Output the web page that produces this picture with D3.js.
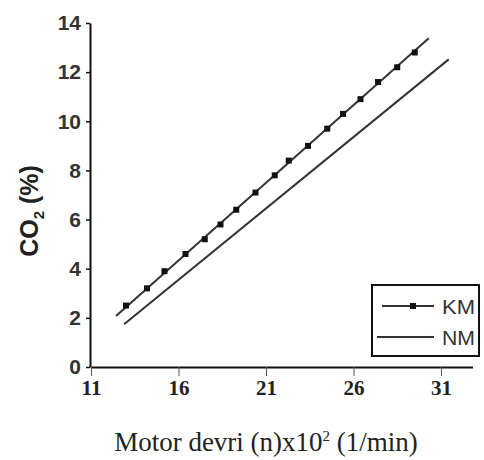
<!DOCTYPE html>
<html>
<head>
<meta charset="utf-8">
<script src="https://cdn.jsdelivr.net/npm/d3@7"></script>
<style>
  html, body { margin: 0; padding: 0; background: #fff; }
  svg { display: block; }
</style>
</head>
<body>
<svg id="chart" width="484" height="460"></svg>
<script>
// x ticks and y ticks
const xTicks = [11, 16, 21, 26, 31];
const yTicks = [0, 2, 4, 6, 8, 10, 12, 14];

// KM: marker points
const kmX = [13.0, 14.2, 15.2, 16.4, 17.5, 18.4, 19.3, 20.4, 21.5, 22.3, 23.4, 24.5, 25.4, 26.4, 27.4, 28.5, 29.5];
const kmY = [2.5, 3.2, 3.9, 4.6, 5.2, 5.8, 6.4, 7.1, 7.8, 8.4, 9.0, 9.7, 10.3, 10.9, 11.6, 12.2, 12.8];
// KM fitted line ends
const kmLineX = [12.43, 30.3];
const kmLineY = [2.08, 13.38];
// NM line ends
const nmLineX = [12.89, 31.44];
const nmLineY = [1.74, 12.52];

const svg = d3.select("#chart");

const x = d3.scaleLinear().domain([11, 32.8]).range([91, 472.5]);
const y = d3.scaleLinear().domain([0, 14]).range([367, 23]);

const ink = "#333";

// axes
const xAxis = svg.append("g")
  .attr("transform", `translate(0,${y(0)})`)
  .call(d3.axisBottom(x).tickValues(xTicks).tickSize(9).tickSizeOuter(0).tickPadding(4));
xAxis.select(".domain").attr("stroke", "#111").attr("stroke-width", 2);
xAxis.selectAll(".tick line").attr("stroke", "#555").attr("stroke-width", 1);
xAxis.selectAll(".tick text")
  .attr("font-family", "Liberation Serif, serif")
  .attr("font-weight", "bold")
  .attr("font-size", 21)
  .attr("fill", "#222");

const yAxis = svg.append("g")
  .attr("transform", `translate(${x(11) - 1},0)`)
  .call(d3.axisLeft(y).tickValues(yTicks).tickSize(4).tickSizeOuter(0).tickPadding(5));
yAxis.select(".domain").attr("stroke", "#111").attr("stroke-width", 2);
yAxis.selectAll(".tick line").attr("stroke", "#111").attr("stroke-width", 1.5);
yAxis.selectAll(".tick text")
  .attr("font-family", "Liberation Sans, Arial, sans-serif")
  .attr("font-weight", "bold")
  .attr("font-size", 21)
  .attr("fill", "#333");

// axis titles
const yt = svg.append("text")
  .attr("transform", `translate(38,211) rotate(-90)`)
  .attr("text-anchor", "middle")
  .attr("font-family", "Liberation Sans, Arial, sans-serif")
  .attr("font-weight", "bold")
  .attr("font-size", 25)
  .attr("fill", "#222");
yt.append("tspan").text("CO");
yt.append("tspan").attr("font-size", 15).attr("dy", 6).text("2");
yt.append("tspan").attr("dy", -6).text(" (%)");

const xt = svg.append("text")
  .attr("x", 266)
  .attr("y", 451)
  .attr("text-anchor", "middle")
  .attr("font-family", "Liberation Serif, serif")
  .attr("font-size", 27)
  .attr("fill", "#222");
xt.append("tspan").text("Motor devri (n)x10");
xt.append("tspan").attr("font-size", 15).attr("dy", -10).text("2");
xt.append("tspan").attr("dy", 10).text(" (1/min)");

// series
const line = d3.line().x((d) => x(d[0])).y((d) => y(d[1]));

svg.append("path")
  .datum(d3.zip(kmLineX, kmLineY))
  .attr("d", line)
  .attr("fill", "none")
  .attr("stroke", ink)
  .attr("stroke-width", 2);

svg.append("path")
  .datum(d3.zip(nmLineX, nmLineY))
  .attr("d", line)
  .attr("fill", "none")
  .attr("stroke", ink)
  .attr("stroke-width", 2);

const sq = d3.symbol().type(d3.symbolSquare).size(36);
svg.append("g").selectAll("path")
  .data(d3.zip(kmX, kmY))
  .join("path")
  .attr("d", sq)
  .attr("transform", (d) => `translate(${x(d[0])},${y(d[1])})`)
  .attr("fill", "#111");

// legend
const lg = svg.append("g");
lg.append("rect")
  .attr("x", 372).attr("y", 285).attr("width", 107).attr("height", 71)
  .attr("fill", "#fff").attr("stroke", "#111").attr("stroke-width", 2);
lg.append("line").attr("x1", 382).attr("x2", 434).attr("y1", 306).attr("y2", 306)
  .attr("stroke", ink).attr("stroke-width", 2);
lg.append("path").attr("d", sq).attr("transform", "translate(413,306)").attr("fill", "#111");
lg.append("line").attr("x1", 377).attr("x2", 434).attr("y1", 337).attr("y2", 337)
  .attr("stroke", ink).attr("stroke-width", 2);
const names = ["KM", "NM"];
lg.selectAll("text.name")
  .data(names)
  .join("text")
  .attr("class", "name")
  .attr("x", 442)
  .attr("y", (d, i) => 314 + i * 31)
  .attr("font-family", "Liberation Sans, Arial, sans-serif")
  .attr("font-size", 21)
  .attr("textLength", 33)
  .attr("lengthAdjust", "spacingAndGlyphs")
  .attr("fill", "#333")
  .text((d) => d);
</script>
</body>
</html>
